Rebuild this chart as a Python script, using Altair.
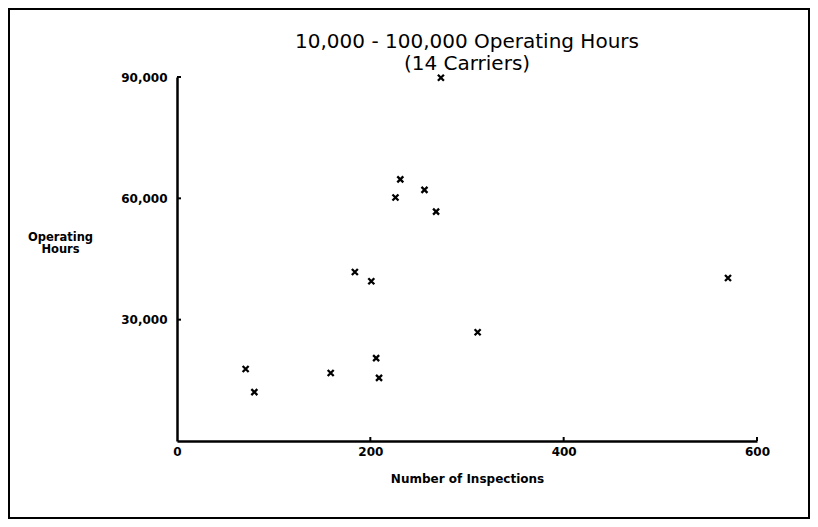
import altair as alt
import pandas as pd

# Data
inspections = [273, 231, 226, 256, 268, 184, 201, 311, 206, 209, 159, 71, 80, 570]
hours = [89800, 64700, 60200, 62100, 56700, 41800, 39500, 26900, 20500, 15600, 16800, 17800, 12100, 40300]

y_tick_values = [30000, 60000, 90000]
x_tick_values = [0, 200, 400, 600]
x_bump_values = [200, 400, 600]

title_lines = ["10,000 - 100,000 Operating Hours", "(14 Carriers)"]
y_title = ["Operating", "Hours"]
x_title = "Number of Inspections"

W, H = 580, 364
FONT = "DejaVu Sans"

pts = pd.DataFrame({"inspections": inspections, "hours": hours})

xscale = alt.Scale(domain=[0, 600], nice=False, zero=True)
yscale = alt.Scale(domain=[0, 90000], nice=False, zero=True)

points = alt.Chart(pts).mark_point(
    shape="M-1,-1L1,1M1,-1L-1,1",
    filled=False,
    stroke="black",
    strokeWidth=2.3,
    size=36,
    opacity=1,
).encode(
    x=alt.X(
        "inspections:Q",
        scale=xscale,
        axis=alt.Axis(
            values=x_tick_values,
            title=x_title,
            grid=False,
            ticks=False,
            domainColor="black",
            domainWidth=2.5,
            labelFont=FONT,
            labelFontWeight="bold",
            labelFontSize=12,
            labelColor="black",
            labelPadding=5,
            labelFlush=False,
            titleFont=FONT,
            titleFontWeight="bold",
            titleFontSize=12,
            titleColor="black",
            titlePadding=16,
        ),
    ),
    y=alt.Y(
        "hours:Q",
        scale=yscale,
        axis=alt.Axis(
            values=y_tick_values,
            format=",d",
            title=y_title,
            titleAngle=0,
            titleAlign="center",
            titleBaseline="middle",
            titleX=-117,
            titleY=160,
            titleLineHeight=12.5,
            grid=False,
            ticks=False,
            domainColor="black",
            domainWidth=2.5,
            labelFont=FONT,
            labelFontWeight="bold",
            labelFontSize=12,
            labelColor="black",
            labelPadding=10,
            labelFlush=False,
            titleFont=FONT,
            titleFontWeight="bold",
            titleFontSize=11.5,
            titleColor="black",
        ),
    ),
)

ybumps = alt.Chart(pd.DataFrame({"v": y_tick_values})).mark_rule(
    color="black", strokeWidth=2
).encode(
    y=alt.Y("v:Q", scale=yscale),
    x=alt.value(0),
    x2=alt.value(4),
)

xbumps = alt.Chart(pd.DataFrame({"v": x_bump_values})).mark_rule(
    color="black", strokeWidth=2
).encode(
    x=alt.X("v:Q", scale=xscale),
    y=alt.value(H),
    y2=alt.value(H - 4),
)

border = alt.Chart(pd.DataFrame({"a": [0]})).mark_rect(
    filled=False, stroke="black", strokeWidth=2
).encode(
    x=alt.value(-168),
    x2=alt.value(632),
    y=alt.value(-68),
    y2=alt.value(441),
)

chart = alt.layer(border, ybumps, xbumps, points).properties(
    width=W,
    height=H,
    background="white",
    padding={"left": 169, "top": 69, "right": 53, "bottom": 78},
    autosize=alt.AutoSizeParams(type="none"),
    title=alt.TitleParams(
        title_lines,
        font=FONT,
        fontSize=20,
        fontWeight="normal",
        color="black",
        anchor="middle",
        frame="group",
        lineHeight=22,
        offset=7,
        dy=73,
    ),
).configure_view(strokeWidth=0, stroke="transparent")

chart.save("out.html", embed_options={"renderer": "svg", "actions": False})
